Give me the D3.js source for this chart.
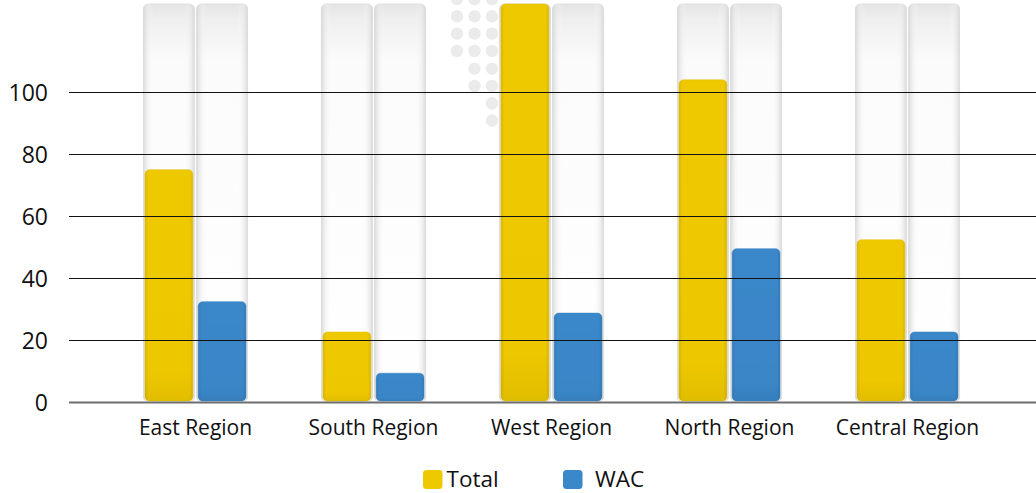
<!DOCTYPE html>
<html>
<head>
<meta charset="utf-8">
<script src="https://cdn.jsdelivr.net/npm/d3@7"></script>
<style>
  html, body { margin: 0; padding: 0; background: #fff; }
  svg { display: block; font-family: "Open Sans", "Noto Sans", sans-serif; }
</style>
</head>
<body>
<svg id="chart" width="1036" height="493"></svg>
<script>
// ---- data ----
const categories = ["East Region", "South Region", "West Region", "North Region", "Central Region"];
const seriesNames = ["Total", "WAC"];
const totalValues = [75, 22.6, 128.5, 104, 52.4];
const wacValues = [32.4, 9.3, 28.7, 49.5, 22.6];
const tickValues = [0, 20, 40, 60, 80, 100];
const seriesColors = ["#EFC900", "#3A87C9"];

// ---- layout ----
const W = 1036, H = 493;
const svg = d3.select("#chart");
const defs = svg.append("defs");

const x = d3.scaleBand().domain(categories).range([106.5, 996.5]).paddingInner(0).paddingOuter(0);
const xSub = d3.scaleBand().domain(seriesNames).range([-50.5, 50.5]).paddingInner(0.1);
const y = d3.scaleLinear().domain([0, 130]).range([402, -0.7]);
const color = d3.scaleOrdinal().domain(seriesNames).range(seriesColors);

const trackMax = d3.max(totalValues.concat(wacValues));

// gradients
const tv = defs.append("linearGradient").attr("id", "trackV").attr("x1", 0).attr("x2", 0).attr("y1", 0).attr("y2", 1);
tv.append("stop").attr("offset", "0%").attr("stop-color", "#e4e4e4");
tv.append("stop").attr("offset", "4%").attr("stop-color", "#efefef");
tv.append("stop").attr("offset", "14%").attr("stop-color", "#fbfbfb");
tv.append("stop").attr("offset", "100%").attr("stop-color", "#ffffff");

const th = defs.append("linearGradient").attr("id", "trackH").attr("x1", 0).attr("x2", 1).attr("y1", 0).attr("y2", 0);
th.append("stop").attr("offset", "0%").attr("stop-color", "#d6d6d6").attr("stop-opacity", 0.9);
th.append("stop").attr("offset", "8%").attr("stop-color", "#e8e8e8").attr("stop-opacity", 0.5);
th.append("stop").attr("offset", "20%").attr("stop-color", "#ffffff").attr("stop-opacity", 0);
th.append("stop").attr("offset", "80%").attr("stop-color", "#ffffff").attr("stop-opacity", 0);
th.append("stop").attr("offset", "92%").attr("stop-color", "#e8e8e8").attr("stop-opacity", 0.5);
th.append("stop").attr("offset", "100%").attr("stop-color", "#d6d6d6").attr("stop-opacity", 0.9);

seriesColors.forEach((c, i) => {
  const g = defs.append("linearGradient").attr("id", "barG" + i).attr("x1", 0).attr("x2", 1).attr("y1", 0).attr("y2", 0);
  const dk = d3.color(c).darker(0.25).formatHex();
  g.append("stop").attr("offset", "0%").attr("stop-color", dk);
  g.append("stop").attr("offset", "7%").attr("stop-color", c);
  g.append("stop").attr("offset", "93%").attr("stop-color", c);
  g.append("stop").attr("offset", "100%").attr("stop-color", dk);
});
const bv = defs.append("linearGradient").attr("id", "barShade").attr("x1", 0).attr("x2", 0).attr("y1", 0).attr("y2", 1);
bv.append("stop").attr("offset", "0%").attr("stop-color", "#000").attr("stop-opacity", 0);
bv.append("stop").attr("offset", "88%").attr("stop-color", "#000").attr("stop-opacity", 0.01);
bv.append("stop").attr("offset", "100%").attr("stop-color", "#000").attr("stop-opacity", 0.06);

// ---- decorative dot pattern (behind West Region) ----
const dotCols = [457, 474.5, 492];
const dotRows = [-1, 16.3, 33.6, 51, 68.6, 86, 103.3, 120.6];
const dotCounts = [3, 3, 3, 3, 2, 2, 1, 1];
const dots = [];
dotRows.forEach((ry, r) => {
  for (let c = 3 - dotCounts[r]; c < 3; c++) dots.push([dotCols[c], ry]);
});
svg.append("g").selectAll("circle").data(dots).join("circle")
  .attr("cx", d => d[0]).attr("cy", d => d[1]).attr("r", 6.2).attr("fill", "#ebebeb");

const data = categories.map((c, i) => ({ cat: c, vals: [
  { key: "Total", idx: 0, v: totalValues[i] },
  { key: "WAC", idx: 1, v: wacValues[i] }
]}));

// ---- tracks ----
const groups = svg.append("g").selectAll("g").data(data).join("g")
  .attr("transform", d => `translate(${x(d.cat) + x.bandwidth() / 2},0)`);

const trackTop = y(trackMax);
groups.selectAll("rect.track").data(d => d.vals).join("rect")
  .attr("class", "track")
  .attr("x", d => xSub(d.key) - 1.6).attr("width", xSub.bandwidth() + 3.2)
  .attr("y", trackTop).attr("height", y(0) - trackTop)
  .attr("rx", 5).attr("fill", "url(#trackV)")
  .attr("stroke", "#dcdcdc").attr("stroke-width", 0.8);
groups.selectAll("rect.trackH").data(d => d.vals).join("rect")
  .attr("class", "trackH")
  .attr("x", d => xSub(d.key) - 1.6).attr("width", xSub.bandwidth() + 3.2)
  .attr("y", trackTop).attr("height", y(0) - trackTop)
  .attr("rx", 5).attr("fill", "url(#trackH)");

// ---- gridlines ----
const grid = svg.append("g");
grid.selectAll("line").data(tickValues.filter(t => t !== 0)).join("line")
  .attr("x1", 69).attr("x2", W)
  .attr("y1", d => Math.round(y(d)) + 0.5).attr("y2", d => Math.round(y(d)) + 0.5)
  .attr("stroke", "#111").attr("stroke-width", 1.2);

// ---- bars ----
groups.selectAll("rect.bar").data(d => d.vals).join("rect")
  .attr("class", "bar")
  .attr("x", d => xSub(d.key)).attr("width", xSub.bandwidth())
  .attr("y", d => y(d.v)).attr("height", d => y(0) - 1 - y(d.v))
  .attr("rx", 4.5)
  .attr("fill", d => `url(#barG${d.idx})`)
  .attr("stroke", d => d3.color(color(d.key)).darker(0.15).formatHex())
  .attr("stroke-width", 0.5);
groups.selectAll("rect.shade").data(d => d.vals).join("rect")
  .attr("class", "shade")
  .attr("x", d => xSub(d.key)).attr("width", xSub.bandwidth())
  .attr("y", d => y(d.v)).attr("height", d => y(0) - 1 - y(d.v))
  .attr("rx", 4.5).attr("fill", "url(#barShade)");

// ---- zero line ----
svg.append("line").attr("x1", 69).attr("x2", W)
  .attr("y1", y(0) + 0.5).attr("y2", y(0) + 0.5)
  .attr("stroke", "#6e6e6e").attr("stroke-width", 2);

// ---- y axis labels ----
const yAxis = d3.axisLeft(y).tickValues(tickValues).tickSize(0).tickPadding(0);
const yg = svg.append("g").attr("transform", "translate(48,0)").call(yAxis);
yg.select(".domain").remove();
yg.selectAll("text").attr("font-size", 23).attr("fill", "#111")
  .attr("font-family", "'Open Sans', sans-serif").attr("dy", "0.36em");

// ---- x axis labels ----
const xAxis = d3.axisBottom(x).tickSize(0).tickPadding(0);
const xg = svg.append("g").attr("transform", "translate(0,420)").call(xAxis);
xg.select(".domain").remove();
xg.selectAll("text").attr("font-size", 21).attr("fill", "#111")
  .attr("font-family", "'Open Sans', sans-serif").attr("dy", "0.71em");

// ---- legend ----
const legendX = [423, 563];
const lg = svg.append("g").selectAll("g").data(seriesNames).join("g")
  .attr("transform", (d, i) => `translate(${legendX[i]},470)`);
lg.append("rect").attr("width", 19.5).attr("height", 19).attr("rx", 3.5)
  .attr("fill", d => color(d));
lg.append("text").attr("x", (d, i) => i === 0 ? 23.5 : 32).attr("y", 16.5)
  .attr("font-size", 22.5).attr("fill", "#111")
  .attr("font-family", "'Open Sans', sans-serif")
  .text(d => d);
</script>
</body>
</html>
